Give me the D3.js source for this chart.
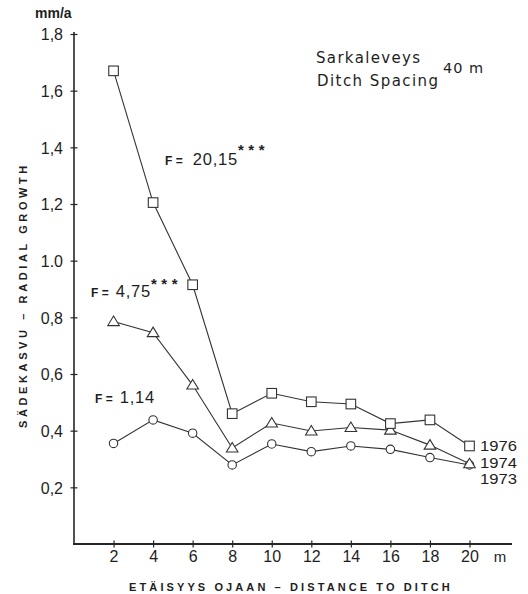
<!DOCTYPE html>
<html>
<head>
<meta charset="utf-8">
<script src="https://cdn.jsdelivr.net/npm/d3@7"></script>
<style>
  html, body { margin: 0; padding: 0; background: #fff; }
  svg { display: block; }
  text { fill: #1e1e1e; }
</style>
</head>
<body>
<svg id="chart" width="528" height="594"></svg>
<script>
// Distance from ditch (m)
const distances = [2, 4, 6, 8, 10, 12, 14, 16, 18, 20];
// Radial growth (mm/a) per year
const growth1976 = [1.67, 1.205, 0.915, 0.46, 0.532, 0.502, 0.494, 0.425, 0.438, 0.346];
const growth1974 = [0.785, 0.746, 0.561, 0.339, 0.427, 0.399, 0.411, 0.402, 0.349, 0.283];
const growth1973 = [0.355, 0.438, 0.391, 0.279, 0.353, 0.326, 0.346, 0.334, 0.305, 0.279];
const yTickValues = [0.2, 0.4, 0.6, 0.8, 1.0, 1.2, 1.4, 1.6, 1.8];
const yTickLabels = ["0,2", "0,4", "0,6", "0,8", "1.0", "1,2", "1,4", "1,6", "1,8"];
const xTickValues = [2, 4, 6, 8, 10, 12, 14, 16, 18, 20];
const seriesNames = ["1976", "1974", "1973"];
const fStats = ["20,15", "4,75", "1,14"];

const svg = d3.select("#chart");
const ink = "#262626";
const sans = "Liberation Sans, Arial, sans-serif";

const x = d3.scaleLinear().domain([0, 20]).range([74, 469.5]);
const y = d3.scaleLinear().domain([0, 1.8]).range([544, 34]);

// Axes lines
svg.append("line").attr("x1", x(0)).attr("x2", x(0)).attr("y1", y(0) + 1).attr("y2", y(1.8) - 2)
  .attr("stroke", ink).attr("stroke-width", 1.6);
svg.append("line").attr("x1", x(0) - 1).attr("x2", 512).attr("y1", y(0)).attr("y2", y(0))
  .attr("stroke", ink).attr("stroke-width", 1.8);

// Y axis ticks (crossing the axis) and labels
const yAxis = d3.axisLeft(y).tickValues(yTickValues)
  .tickFormat((d, i) => yTickLabels[i]).tickSize(0).tickPadding(11);
const gy = svg.append("g").attr("transform", `translate(${x(0)},0)`).call(yAxis);
gy.select(".domain").remove();
gy.selectAll(".tick").append("line").attr("x1", -3.5).attr("x2", 3.5)
  .attr("stroke", ink).attr("stroke-width", 1.2);
gy.selectAll(".tick text").attr("font-family", sans)
  .attr("font-size", 16).attr("fill", "#2a2a2a").attr("dy", "0.36em");

// X axis ticks and labels
const xAxis = d3.axisBottom(x).tickValues(xTickValues).tickSize(0).tickPadding(7);
const gx = svg.append("g").attr("transform", `translate(0,${y(0)})`).call(xAxis);
gx.select(".domain").remove();
gx.selectAll(".tick").append("line").attr("y1", -3.5).attr("y2", 3.5)
  .attr("stroke", ink).attr("stroke-width", 1.2);
gx.selectAll(".tick text").attr("font-family", sans)
  .attr("font-size", 16).attr("fill", "#2a2a2a");

svg.append("text").attr("x", 500).attr("y", 562).attr("text-anchor", "middle")
  .attr("font-family", sans).attr("font-size", 15).text("m");

// Unit label
svg.append("text").attr("x", 35).attr("y", 18)
  .attr("font-family", sans).attr("font-size", 14)
  .attr("font-weight", "bold").text("mm/a");

// Axis titles
svg.append("text").attr("x", 291).attr("y", 591).attr("text-anchor", "middle")
  .attr("font-family", sans).attr("font-size", 11)
  .attr("font-weight", "bold").attr("letter-spacing", 3.1).text("ETÄISYYS OJAAN – DISTANCE TO DITCH");
svg.append("text").attr("transform", "translate(27,295) rotate(-90)").attr("text-anchor", "middle")
  .attr("font-family", sans).attr("font-size", 11)
  .attr("font-weight", "bold").attr("letter-spacing", 3.6).text("SÄDEKASVU – RADIAL GROWTH");

// Site title
const titleFont = "DejaVu Sans, sans-serif";
svg.append("text").attr("x", 316).attr("y", 63).attr("font-family", titleFont)
  .attr("font-size", 15).attr("textLength", 104).attr("lengthAdjust", "spacing").text("Sarkaleveys");
svg.append("text").attr("x", 317).attr("y", 86).attr("font-family", titleFont)
  .attr("font-size", 15).attr("textLength", 121).attr("lengthAdjust", "spacing").text("Ditch Spacing");
svg.append("text").attr("x", 443).attr("y", 73).attr("font-family", titleFont)
  .attr("font-size", 14.5).attr("textLength", 40).attr("lengthAdjust", "spacing").text("40 m");

// Series lines and markers
const series = [
  { name: seriesNames[0], values: growth1976, shape: "square" },
  { name: seriesNames[1], values: growth1974, shape: "triangle" },
  { name: seriesNames[2], values: growth1973, shape: "circle" }
];
const line = d3.line().x(d => x(d[0])).y(d => y(d[1]));

series.forEach(s => {
  const pts = distances.map((d, i) => [d, s.values[i]]);
  svg.append("path").datum(pts).attr("d", line)
    .attr("fill", "none").attr("stroke", "#333").attr("stroke-width", 1.1);
});

series.slice().reverse().forEach(s => {
  const pts = distances.map((d, i) => [d, s.values[i]]);
  const g = svg.append("g");
  pts.forEach(p => {
    const cx = x(p[0]), cy = y(p[1]);
    if (s.shape === "square") {
      g.append("rect").attr("x", cx - 4.8).attr("y", cy - 4.8).attr("width", 9.6).attr("height", 9.6)
        .attr("fill", "#fff").attr("stroke", "#333").attr("stroke-width", 1.1);
    } else if (s.shape === "triangle") {
      g.append("path").attr("d", `M${cx},${cy - 5.5} L${cx + 5.8},${cy + 4} L${cx - 5.8},${cy + 4} Z`)
        .attr("fill", "#fff").attr("stroke", "#333").attr("stroke-width", 1.1);
    } else {
      g.append("circle").attr("cx", cx).attr("cy", cy).attr("r", 4.2)
        .attr("fill", "#fff").attr("stroke", "#333").attr("stroke-width", 1.1);
    }
  });
});

// Year labels at the end of the series
const yearLabelY = [451, 467.5, 484];
seriesNames.forEach((n, i) => {
  svg.append("text").attr("x", 480).attr("y", yearLabelY[i])
    .attr("font-family", sans).attr("font-size", 14.2).attr("textLength", 37)
    .attr("lengthAdjust", "spacingAndGlyphs").text(n);
});

// F statistics: small bold "F =", larger value, optional significance stars
function fLabel(xp, yp, val, width, stars) {
  svg.append("text").attr("x", xp).attr("y", yp)
    .attr("font-family", sans).attr("font-size", 12).attr("font-weight", "bold").text("F =");
  svg.append("text").attr("x", xp + width).attr("y", yp).attr("text-anchor", "end")
    .attr("font-family", sans).attr("font-size", 16.5).attr("letter-spacing", 0.8).text(val);
  if (stars) {
    svg.append("text").attr("x", stars[0]).attr("y", stars[1])
      .attr("font-family", sans).attr("font-size", 15).attr("font-weight", "bold")
      .attr("letter-spacing", 4.5).text("***");
  }
}
fLabel(165, 165, fStats[0], 73, [238, 155]);
fLabel(91, 297, fStats[1], 60, [151, 289]);
fLabel(95, 403, fStats[2], 60, null);
</script>
</body>
</html>
